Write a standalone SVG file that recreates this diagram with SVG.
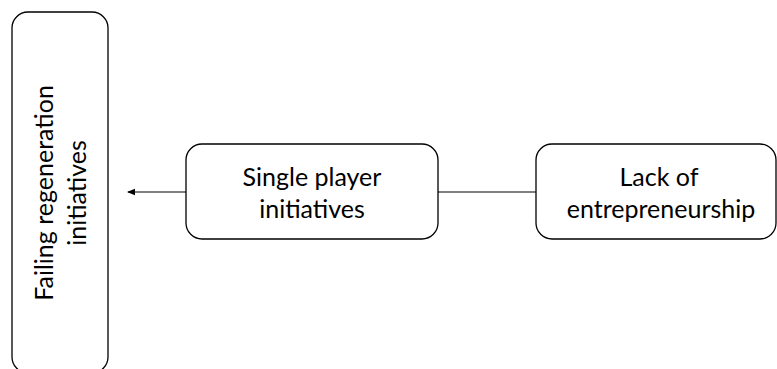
<svg xmlns="http://www.w3.org/2000/svg" width="777" height="369" viewBox="0 0 777 369">
<style>
.box{fill:#fff;stroke:#000;stroke-width:1.3}
.t{font-family:Lato,"Open Sans","Liberation Sans",sans-serif;font-size:25px;fill:#000;text-anchor:middle}
.c{stroke:#000;stroke-width:1.2;fill:none}
</style>
<defs>
<marker id="arr" markerWidth="8" markerHeight="8" refX="7" refY="4" orient="auto" markerUnits="userSpaceOnUse">
<path d="M0,0.8 L8,4 L0,7.2 Z" fill="#000"/>
</marker>
</defs>
<rect width="777" height="369" fill="#fff"/>
<g id="connectors">
<line class="c" x1="186" y1="192" x2="128" y2="192" marker-end="url(#arr)"/>
<line class="c" x1="438" y1="192" x2="536" y2="192"/>
</g>
<g id="failing">
<rect class="box" x="12" y="12" width="96" height="361" rx="16"/>
<text class="t" transform="translate(53,193) rotate(-90)" x="0" y="0">Failing regeneration</text>
<text class="t" transform="translate(86,193) rotate(-90)" x="0" y="0">initiatives</text>
</g>
<g id="single">
<rect class="box" x="186" y="144" width="252" height="95" rx="16"/>
<text class="t" x="312" y="186">Single player</text>
<text class="t" x="312" y="218">initiatives</text>
</g>
<g id="lack">
<rect class="box" x="536" y="144" width="240" height="95" rx="16"/>
<text class="t" x="659" y="186">Lack of</text>
<text class="t" x="661" y="218">entrepreneurship</text>
</g>
</svg>
